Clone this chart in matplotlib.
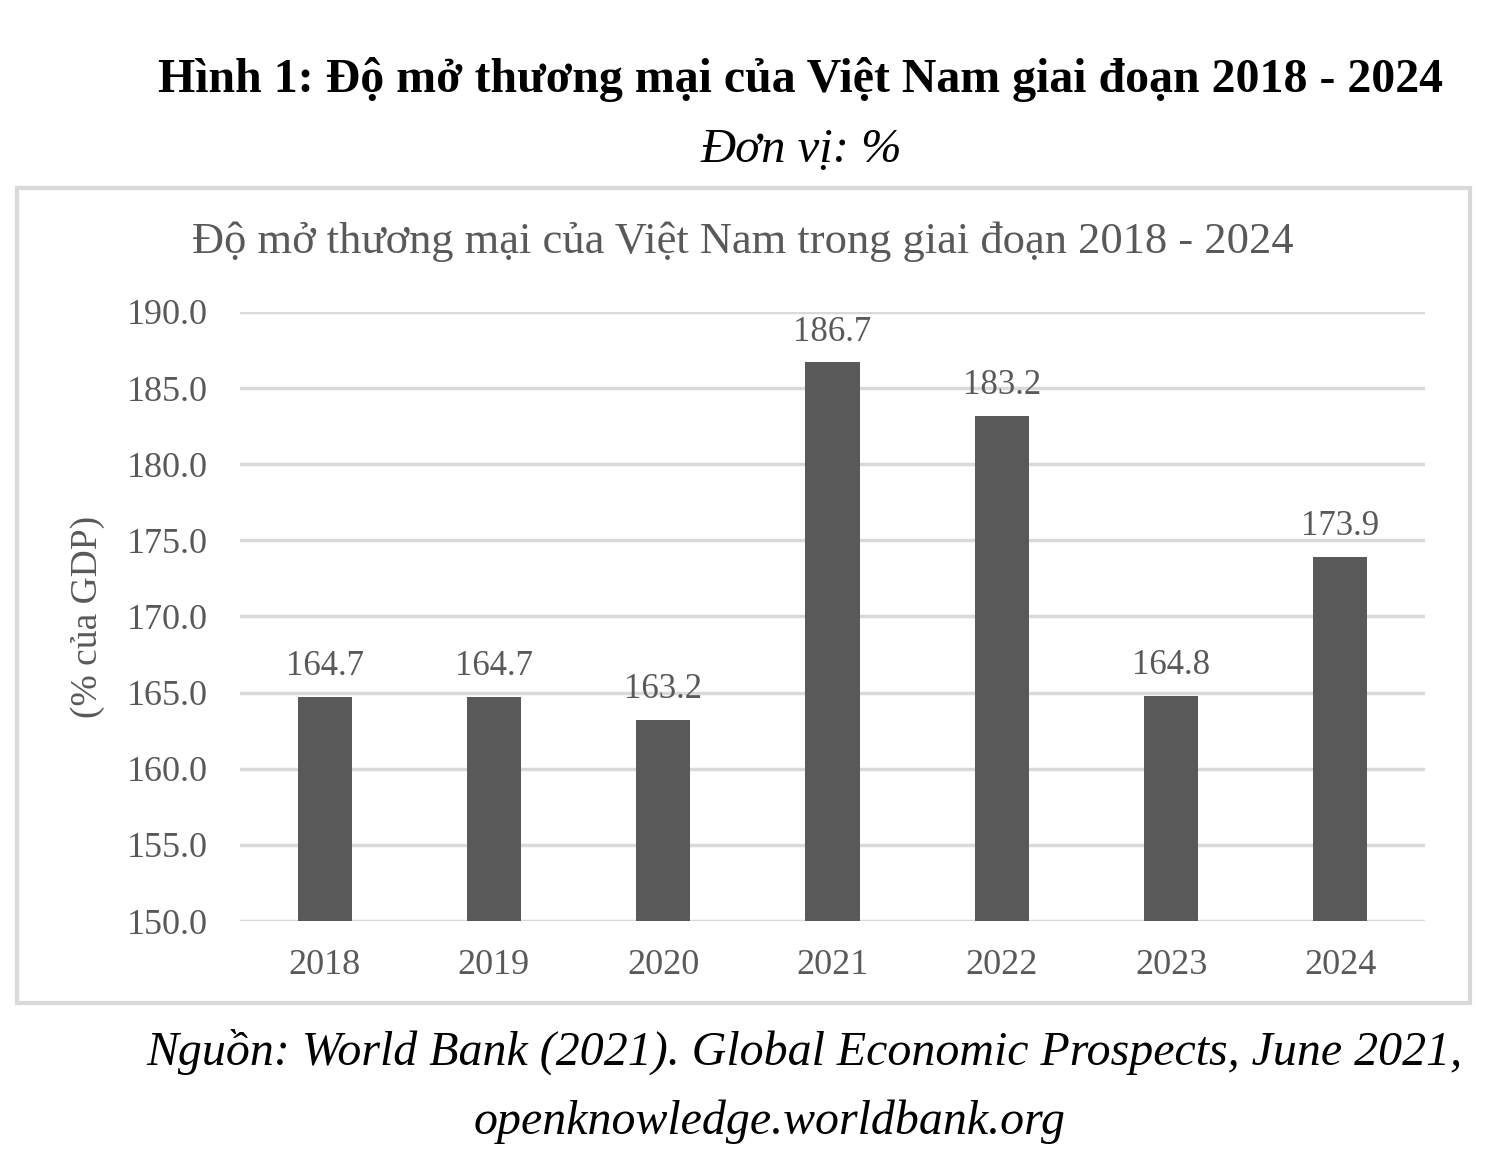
import matplotlib.pyplot as plt
from matplotlib.patches import Rectangle

plt.rcParams['font.family'] = ['Liberation Serif', 'DejaVu Serif']

years = ['2018', '2019', '2020', '2021', '2022', '2023', '2024']
openness = [164.7, 164.7, 163.2, 186.7, 183.2, 164.8, 173.9]
y_ticks = [150, 155, 160, 165, 170, 175, 180, 185, 190]

gray = '#595959'

fig = plt.figure(figsize=(15, 11.5), dpi=100)

# chart frame
fig.patches.append(Rectangle((17 / 1500, 1 - 1003 / 1150), (1470 - 17) / 1500, (1003 - 188) / 1150,
                             transform=fig.transFigure, fill=False, edgecolor='#d9d9d9', linewidth=3))

fig.text(0.534, 1 - 80 / 1150, 'Hình 1: Độ mở thương mại của Việt Nam giai đoạn 2018 - 2024',
         ha='center', va='center', fontsize=34.5, fontweight='bold')
fig.text(0.534, 1 - 150 / 1150, 'Đơn vị: %', ha='center', va='center', fontsize=35, style='italic')
fig.text(0.495, 1 - 242 / 1150, 'Độ mở thương mại của Việt Nam trong giai đoạn 2018 - 2024',
         ha='center', va='center', fontsize=32, color=gray)

ax = fig.add_axes([240 / 1500, 1 - 921 / 1150, 1185 / 1500, (921 - 312) / 1150])
x = range(len(years))
bars = ax.bar(x, openness, width=0.32, color=gray, zorder=3)
for xi, v in zip(x, openness):
    ax.text(xi, v + 0.9, f'{v:.1f}', ha='center', va='bottom', fontsize=25, color=gray)

ax.set_xlim(-0.5, len(years) - 0.5)
ax.set_ylim(150, 190)
ax.set_yticks(y_ticks)
ax.set_yticklabels([f'{t:.1f}' for t in y_ticks], fontsize=26, color=gray)
ax.set_xticks(list(x))
ax.set_xticklabels(years, fontsize=26, color=gray)
ax.tick_params(length=0, pad=23)
ax.tick_params(axis='x', pad=20)
ax.grid(axis='y', color='#d9d9d9', linewidth=2.5, zorder=0)
for s in ax.spines.values():
    s.set_visible(False)
ax.set_ylabel('(% của GDP)', fontsize=27, color=gray, labelpad=16)

fig.text(0.975, 1 - 1052 / 1150, 'Nguồn: World Bank (2021). Global Economic Prospects, June 2021,',
         ha='right', va='center', fontsize=34.5, style='italic')
fig.text(0.513, 1 - 1122 / 1150, 'openknowledge.worldbank.org',
         ha='center', va='center', fontsize=34.5, style='italic')

plt.savefig('out.png', dpi=100)
plt.close()
